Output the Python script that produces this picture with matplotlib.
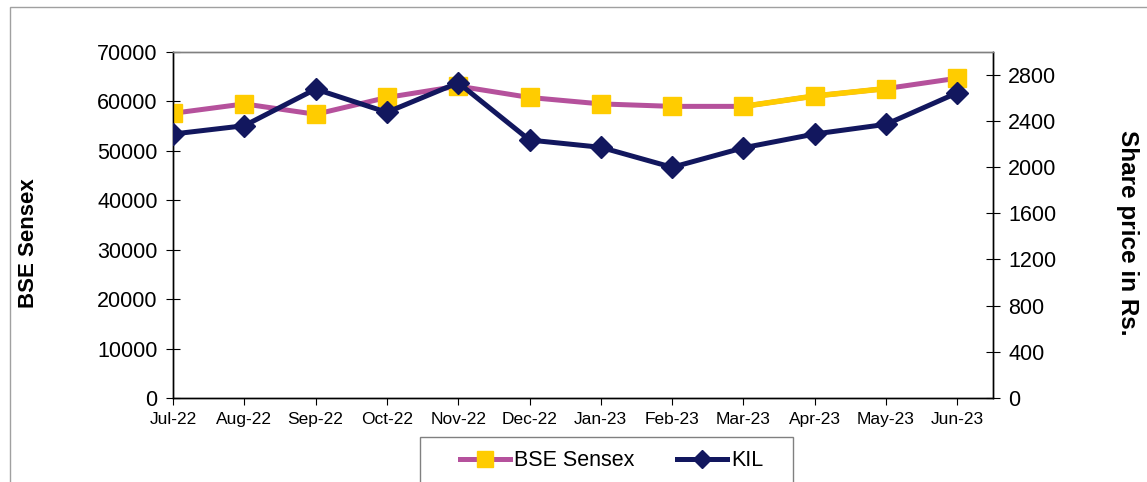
import matplotlib
matplotlib.use("Agg")
import matplotlib.pyplot as plt
from matplotlib.lines import Line2D
from matplotlib.patches import Rectangle

plt.rcParams['font.family'] = ['Liberation Sans', 'DejaVu Sans']

months = ["Jul-22", "Aug-22", "Sep-22", "Oct-22", "Nov-22", "Dec-22",
          "Jan-23", "Feb-23", "Mar-23", "Apr-23", "May-23", "Jun-23"]
sensex = [57600, 59500, 57400, 60800, 63100, 60800,
          59500, 59000, 59000, 61100, 62600, 64700]
kil = [2285, 2357, 2674, 2473, 2729, 2233,
       2170, 1997, 2166, 2285, 2369, 2642]

magenta = "#B5519C"
yellow = "#FFCC00"
navy = "#12175E"

fig = plt.figure(figsize=(11.47, 4.82), dpi=100)
ax1 = fig.add_axes([173/1147, 1-398/482, (993-173)/1147, (398-52)/482])
ax2 = ax1.twinx()

x = list(range(len(months)))

# sensex line (the picture shows the Mar-May stretch drawn in yellow)
ax1.plot(x, sensex, color=magenta, lw=3.6, zorder=2)
ax1.plot(x[8:11], sensex[8:11], color=yellow, lw=4.0, zorder=2)
ax1.plot(x, sensex, ls="none", marker="s", ms=13, mfc=yellow, mec=yellow, zorder=3)

ax2.plot(x, kil, color=navy, lw=3.6, marker="D", ms=11, mfc=navy, mec=navy, zorder=3)

ax1.set_xlim(0, 11.5)
ax1.set_ylim(0, 70000)
ax2.set_ylim(0, 2995)
ax1.set_xticks(x)
ax1.set_xticklabels(months, fontsize=12.5)
ax1.set_yticks(range(0, 70001, 10000))
ax2.set_yticks(range(0, 2801, 400))
ax1.tick_params(axis='y', labelsize=15.5, direction='inout', length=10, width=0.8, pad=6)
ax2.tick_params(axis='y', labelsize=15.5, direction='inout', length=10, width=0.8, pad=6)
ax1.tick_params(axis='x', direction='out', length=5, width=0.8, pad=5)

for ax in (ax1, ax2):
    ax.spines['top'].set_color("#808080")
    ax.spines['top'].set_linewidth(1.0)
    for s in ('left', 'right', 'bottom'):
        ax.spines[s].set_color("black")
        ax.spines[s].set_linewidth(1.0)

fig.text(29/1147, 1-243/482, "BSE Sensex", rotation=90, ha='center', va='center',
         fontsize=16, fontweight='bold')
fig.text(1128/1147, 1-233/482, "Share price in Rs.", rotation=-90, ha='center', va='center',
         fontsize=17.5, fontweight='bold')

handles = [Line2D([], [], color=magenta, lw=3.6, marker="s", ms=11, mfc=yellow, mec=yellow),
           Line2D([], [], color=navy, lw=3.6, marker="D", ms=9, mfc=navy, mec=navy)]
fig.legend(handles, ["BSE Sensex", "KIL"], ncol=2, loc='center left',
           bbox_to_anchor=(460/1147, 1-461/482), fontsize=15.5, frameon=False,
           handlelength=2.3, handletextpad=0.2, columnspacing=2.0,
           borderpad=0, borderaxespad=0)

# legend box
fig.patches.append(Rectangle((420/1147, -0.1), (793-420)/1147, 0.1+1-437/482,
                             transform=fig.transFigure, fill=False,
                             edgecolor="#808080", lw=1.0))
# outer chart border
fig.patches.append(Rectangle((10/1147, -0.1), 1.2, 1-7/482+0.1, transform=fig.transFigure,
                             fill=False, edgecolor="#A0A0A0", lw=1.0))

fig.savefig("out.png", dpi=100)
